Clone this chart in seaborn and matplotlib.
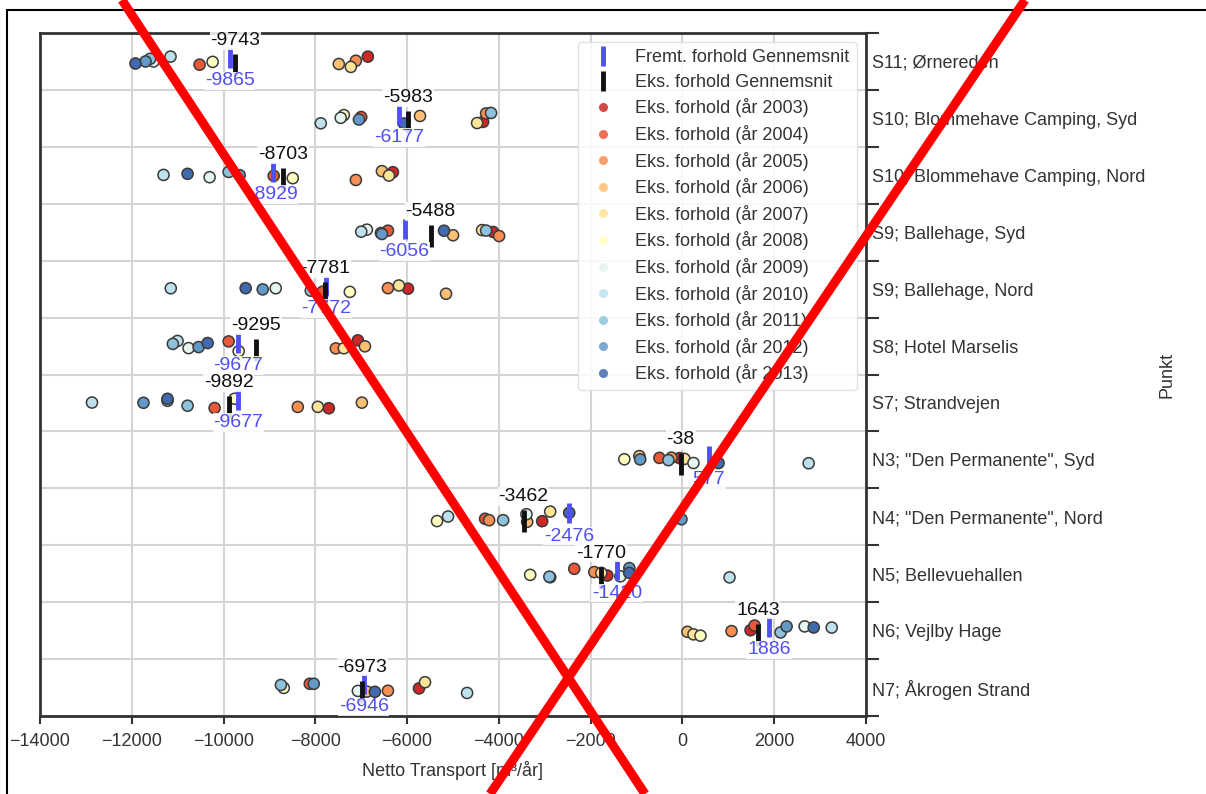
import numpy as np
import pandas as pd
import seaborn as sns
import matplotlib.pyplot as plt
from matplotlib.lines import Line2D

# Measuring points (top to bottom)
points = [
    "S11; Ørnereden",
    "S10; Blommehave Camping, Syd",
    "S10; Blommehave Camping, Nord",
    "S9; Ballehage, Syd",
    "S9; Ballehage, Nord",
    "S8; Hotel Marselis",
    "S7; Strandvejen",
    'N3; "Den Permanente", Syd',
    'N4; "Den Permanente", Nord',
    "N5; Bellevuehallen",
    "N6; Vejlby Hage",
    "N7; Åkrogen Strand",
]
years = list(range(2003, 2014))

# Yearly net transport, existing conditions (m3/yr), years 2003..2013
s11_ornereden = [-6855, -10522, -7117, -7488, -7226, -10238, -11526, -11155, -11600, -11700, -11919]
s10_blommehave_syd = [-4344, -7000, -4279, -5719, -4475, -7379, -7447, -7881, -4170, -7050, -6069]
s10_blommehave_nord = [-6309, -8907, -7117, -6549, -6396, -8492, -10304, -11308, -9889, -9649, -10784]
s9_ballehage_syd = [-4126, -6418, -3995, -4999, -4366, -6571, -6877, -7000, -4279, -6549, -5196]
s9_ballehage_nord = [-5981, -7837, -6418, -5152, -6178, -7248, -8863, -11150, -8099, -9147, -9518]
s8_hotel_marselis = [-7073, -9889, -7553, -6920, -7379, -9671, -10762, -11002, -11105, -10544, -10347]
s7_strandvejen = [-7706, -10195, -8383, -6986, -7946, -9758, -11221, -12867, -10784, -11745, -11221]
n3_permanente_syd = [-65, -502, -240, -939, 44, -1266, 240, 2751, -306, -921, 786]
n4_permanente_nord = [-3056, -4301, -4213, -3384, -2882, -5348, -3400, -5108, -3908, -22, -2467]
n5_bellevuehallen = [-1637, -2358, -1921, -2882, -1768, -3318, -1353, 1026, -2900, -1157, -1160]
n6_vejlby_hage = [1484, 1572, 1070, 109, 240, 393, 2663, 3253, 2139, 2270, 2860]
n7_akrogen_strand = [-5741, -8121, -6418, -6877, -5610, -8688, -7073, -4693, -8750, -8034, -6702]

# Averages: existing (Eks.) and future (Fremt.) conditions
eks_mean = [-9743, -5983, -8703, -5488, -7781, -9295, -9892, -38, -3462, -1770, 1643, -6973]
fremt_mean = [-9865, -6177, -8929, -6056, -7772, -9677, -9677, 577, -2476, -1420, 1886, -6946]

yearly = [s11_ornereden, s10_blommehave_syd, s10_blommehave_nord, s9_ballehage_syd,
          s9_ballehage_nord, s8_hotel_marselis, s7_strandvejen, n3_permanente_syd,
          n4_permanente_nord, n5_bellevuehallen, n6_vejlby_hage, n7_akrogen_strand]

rows = []
for name, vals in zip(points, yearly):
    for yr, v in zip(years, vals):
        rows.append({"Punkt": name, "year": yr, "value": v})
df = pd.DataFrame(rows)

sns.set_theme(style="whitegrid")
plt.rcParams['font.family'] = ['Liberation Sans', 'DejaVu Sans']

W, H = 1206, 794
fig = plt.figure(figsize=(W / 100, H / 100), dpi=100)
ax = fig.add_axes([40 / W, 1 - 716 / H, (866 - 40) / W, (716 - 33) / H])

palette = sns.color_palette("RdYlBu", len(years))
blue = "#4f4ff5"
black = "#111111"

np.random.seed(7)
sns.stripplot(data=df, x="value", y="Punkt", hue="year", order=points,
              hue_order=years, palette=palette, size=8, linewidth=1.1,
              edgecolor="#3a3a3a", jitter=True, ax=ax, legend=False, zorder=3)

idx = np.arange(len(points))
ax.scatter(fremt_mean, idx - 0.06, marker="|", s=220, linewidths=3.5,
           color=blue, zorder=4)
ax.scatter(eks_mean, idx + 0.07, marker="|", s=240, linewidths=3.5,
           color=black, zorder=4)

box = dict(facecolor="white", edgecolor="none", pad=0.6, alpha=0.85)
for i in idx:
    ax.text(eks_mean[i], i - 0.36, f"{eks_mean[i]}", ha="center", va="center",
            fontsize=14, color=black, bbox=box, zorder=5)
    ax.text(fremt_mean[i], i + 0.34, f"{fremt_mean[i]}", ha="center", va="center",
            fontsize=14, color=blue, bbox=box, zorder=5)

ax.set_xlim(-14000, 4000)
ax.set_xticks(range(-14000, 4001, 2000))
ax.set_ylim(len(points) - 0.5, -0.5)
ax.set_yticks(idx)
ax.set_yticklabels(points)
ax.set_yticks(np.arange(-0.5, len(points), 1), minor=True)

ax.yaxis.tick_right()
ax.yaxis.set_label_position("right")
ax.tick_params(axis="y", which="major", left=False, right=False, labelright=True,
               labelleft=False, length=0, pad=4, labelsize=13, labelcolor="#333333")
ax.tick_params(axis="y", which="minor", left=False, right=True, length=9,
               width=1.5, color="#333333")
ax.tick_params(axis="x", which="major", bottom=True, length=6, width=1.5,
               color="#333333", labelsize=13, pad=6, labelcolor="#333333")

ax.grid(False)
ax.grid(True, axis="x", which="major", color="#d4d4d4", lw=1.5)
ax.grid(True, axis="y", which="minor", color="#d4d4d4", lw=1.5)
ax.set_axisbelow(True)

for sp in ax.spines.values():
    sp.set_visible(True)
    sp.set_color("#333333")
    sp.set_linewidth(2)

ax.set_xlabel("Netto Transport [m³/år]", fontsize=13, color="#333333", labelpad=8)
ax.set_ylabel("Punkt", fontsize=13, color="#333333", labelpad=10)

handles = [
    Line2D([], [], marker="|", linestyle="none", color=blue, markersize=15, markeredgewidth=3.5),
    Line2D([], [], marker="|", linestyle="none", color=black, markersize=15, markeredgewidth=3.5),
]
labels = ["Fremt. forhold Gennemsnit", "Eks. forhold Gennemsnit"]
for c, yr in zip(palette, years):
    handles.append(Line2D([], [], marker="o", linestyle="none", color=c,
                          markersize=6.5, markeredgewidth=0, alpha=0.85))
    labels.append(f"Eks. forhold (år {yr})")
leg = ax.legend(handles, labels, loc="upper right", fontsize=13, frameon=True,
                framealpha=0.85, edgecolor="#dddddd", labelspacing=0.42,
                borderaxespad=0.5)
for t in leg.get_texts():
    t.set_color("#333333")

# thin outer frame
fig.add_artist(Line2D([7 / W, 7 / W], [0, 1 - 10 / H], color="black", lw=1.5,
                      transform=fig.transFigure))
fig.add_artist(Line2D([7 / W, 1], [1 - 10 / H, 1 - 10 / H], color="black", lw=1.5,
                      transform=fig.transFigure))

# large red cross drawn over the whole figure
fig.add_artist(Line2D([122 / W, 645 / W], [1, 0], color="red", lw=6.5,
                      transform=fig.transFigure, solid_capstyle="butt", zorder=10))
fig.add_artist(Line2D([1025 / W, 490 / W], [1, 0], color="red", lw=6.5,
                      transform=fig.transFigure, solid_capstyle="butt", zorder=10))

fig.savefig("out.png", dpi=100)
